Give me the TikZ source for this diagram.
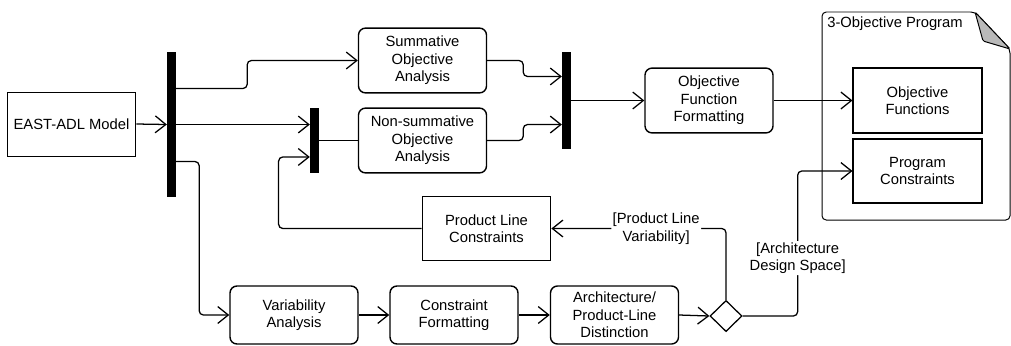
\documentclass[tikz,border=0pt]{standalone}
\usepackage{fontspec}
\setmainfont{Liberation Sans}
\usetikzlibrary{arrows.meta,shapes.geometric}

\begin{document}
\begin{tikzpicture}[x=0.025cm,y=-0.025cm,font=\fontsize{10.5pt}{12.4pt}\selectfont]

    \tikzset{
      action/.style={
        draw,
        line width=1pt,
        rounded corners=5pt,
        align=center,
        inner sep=0pt,
        minimum width=3.2cm,
        minimum height=1.62cm,
      },
      plainbox/.style={
        draw,
        line width=0.7pt,
        align=center,
        inner sep=0pt,
        minimum width=3.22cm,
        minimum height=1.6cm,
      },
      syncbar/.style={
        fill=black,
        inner sep=0pt,
        minimum width=0.22cm,
      },
      guard/.style={fill=white, align=center, inner sep=1pt},
      flow/.style={line width=0.9pt, rounded corners=3pt,
        -{Straight Barb[length=7.5pt,width=12pt,line width=0.9pt]}},
    }
    \useasboundingbox (0,0) rectangle (1011,345);

	% sources and fork
	\node[plainbox] (model) at (71.5,124) {EAST-ADL Model};
	\node[syncbar, minimum height=3.62cm] (fork) at (171.5,124.5) {};

	% objective branch
	\node[action] (summ) at (422.5,60.5) {Summative\\Objective\\Analysis};
	\node[action] (nonsumm) at (422.5,140.5) {Non-summative\\Objective\\Analysis};
	\node[syncbar, minimum height=1.62cm] (joinA) at (314.5,140.5) {};
	\node[syncbar, minimum height=2.42cm] (joinB) at (566.5,100.5) {};
	\node[action] (offmt) at (709,100.5) {Objective\\Function\\Formatting};

	% variability branch
	\node[action, minimum height=1.45cm] (varan) at (294,315) {Variability\\Analysis};
	\node[action, minimum height=1.45cm] (consfmt) at (454,315) {Constraint\\Formatting};
	\node[action, minimum height=1.45cm] (archpl) at (614.5,315) {Architecture/\\Product-Line\\Distinction};
	\node[draw, diamond, line width=0.9pt, inner sep=0pt, minimum width=0.8cm, minimum height=0.78cm] (decide) at (726,316) {};
	\node[plainbox, minimum height=1.58cm] (plcons) at (486.5,228.5) {Product Line\\Constraints};

	% 3-objective program
	\draw[line width=0.7pt, rounded corners=3pt] (822,12) -- (975,12) -- (1010,49) -- (1010,220) -- (822,220) -- cycle;
	\filldraw[fill=gray!55, line width=0.7pt, rounded corners=1pt] (975,12) -- (983,41) -- (1010,49) -- cycle;
	\node[anchor=west, inner sep=0pt] (progtitle) at (827,24) {3-Objective Program};
	\node[action, line width=0.9pt, rounded corners=0pt, minimum width=3.22cm] (objfun) at (917.5,100.5) {Objective\\Functions};
	\node[action, line width=0.9pt, rounded corners=0pt, minimum width=3.22cm, minimum height=1.6cm] (progcons) at (917.5,171) {Program\\Constraints};

	\draw[flow] (model.east) -- (fork.west);
	\draw[flow] ([yshift=25.6pt]fork.east) -- ++(71,0) |- (summ.west);
	\draw[flow] (fork.east) -- (fork.east -| joinA.west);
	\draw[flow] ([yshift=-26.3pt]fork.east) -- ++(23,0) |- (varan.west);
	\draw[line width=0.9pt] (joinA.east) -- (nonsumm.west);
	\draw[flow] (summ.east) -- ++(36,0) |- ([yshift=17.1pt]joinB.west);
	\draw[flow] (nonsumm.east) -- ++(36,0) |- ([yshift=-17.1pt]joinB.west);
	\draw[flow] (joinB.east) -- (offmt.west);
	\draw[flow] (offmt.east) -- (objfun.west);

	\draw[flow] (varan.east) -- (consfmt.west);
	\draw[flow] (consfmt.east) -- (archpl.west);
	\draw[flow] (archpl.east) -- (decide.west);
	\draw[flow] (decide.north) |- (plcons.east)
	  node[guard, pos=0.7] (plvar) {[Product Line\\Variability]};
	\draw[flow] (plcons.west) -- ++(-143,0) |- ([yshift=-11.7pt]joinA.west);
	\draw[flow] (decide.east) -- ++(55,0) |- (progcons.west)
	  node[guard, pos=0.2] (archds) {[Architecture\\Design Space]};

\end{tikzpicture}
\end{document}
